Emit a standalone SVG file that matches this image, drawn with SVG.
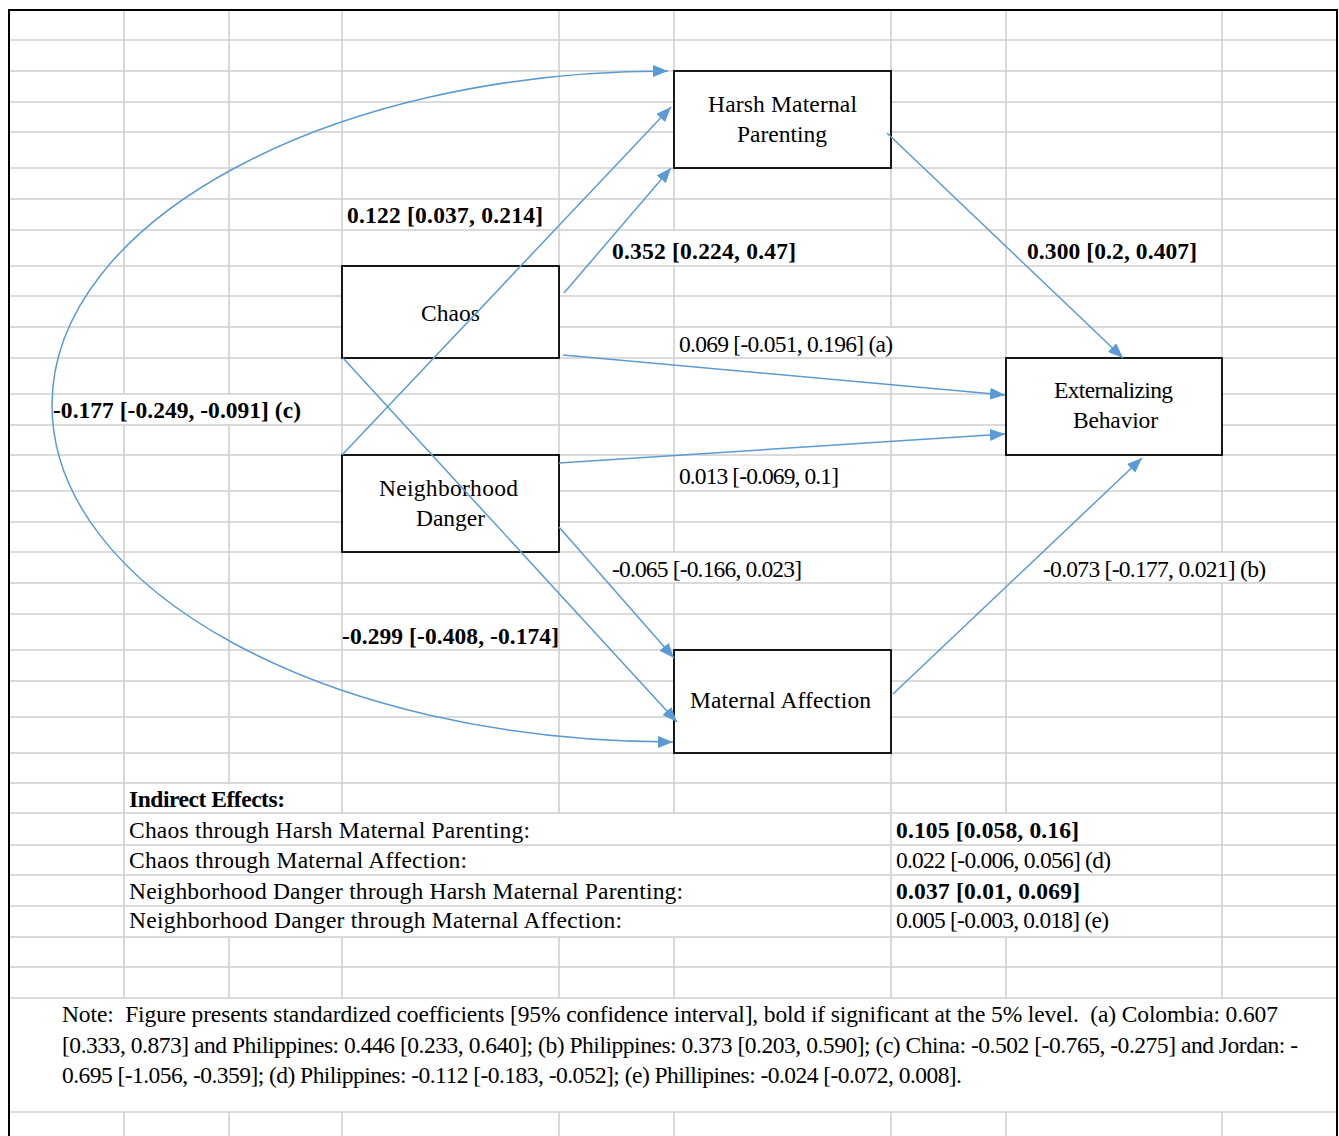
<svg xmlns="http://www.w3.org/2000/svg" width="1339" height="1136" viewBox="0 0 1339 1136">
<style>
.t{font-family:"Liberation Serif","Times New Roman",serif;font-size:23.5px;fill:#000}
.b{font-weight:bold}
.grid{stroke:#D0D0D0;stroke-width:1.6;fill:none}
.box{fill:#fff;stroke:#000;stroke-width:1.8}
.c{stroke:#5B9BD5;stroke-width:1.5;fill:none;marker-end:url(#ah)}
</style>
<defs>
<marker id="ah" markerUnits="userSpaceOnUse" markerWidth="15" markerHeight="12" viewBox="0 0 15 12" refX="15" refY="6" orient="auto-start-reverse">
<path d="M0,0 L15,6 L0,12 z" fill="#5B9BD5"/>
</marker>
</defs>
<rect x="0" y="0" width="1339" height="1136" fill="#fff"/>
<g id="grid" class="grid">
<path d="M9,40H1337M9,71H1337M9,102H1337M9,132H1337M9,168H1337M9,199H1337M9,230H1337M9,266H1337M9,296H1337M9,327H1337M9,358H1337M9,394H1337M9,425H1337M9,455H1337M9,491H1337M9,522H1337M9,552H1337M9,583H1337M9,614H1337M9,650H1337M9,681H1337M9,717H1337M9,753H1337M9,783H1337M9,813H1337M9,845H1337M9,875H1337M9,906H1337M9,937H1337M9,967H1337M9,998H1337M9,1112H1337"/>
<path d="M124,10V394M124,425V998M124,1112V1136
M229,10V394M229,425V783M229,937V998M229,1112V1136
M342,10V813M342,937V998M342,1112V1136
M559,10V813M559,937V998M559,1112V1136
M674,10V230M674,266V552M674,583V813M674,937V998M674,1112V1136
M891,10V327M891,358V998M891,1112V1136
M1006,10V813M1006,937V998M1006,1112V1136
M1222,10V552M1222,583V998M1222,1112V1136"/>
</g>
<path id="border" d="M9,1136V10H1337V1136" stroke="#000" stroke-width="2" fill="none"/>
<g id="node-harsh">
<rect class="box" x="674" y="71" width="217" height="97"/>
<text class="t" x="708" y="112" textLength="149" lengthAdjust="spacing">Harsh Maternal</text>
<text class="t" x="737" y="142" textLength="90" lengthAdjust="spacing">Parenting</text>
</g>
<g id="node-chaos">
<rect class="box" x="342" y="266" width="217" height="92"/>
<text class="t" x="421" y="321" textLength="59" lengthAdjust="spacing">Chaos</text>
</g>
<g id="node-danger">
<rect class="box" x="342" y="455" width="217" height="97"/>
<text class="t" x="379" y="496" textLength="139" lengthAdjust="spacing">Neighborhood</text>
<text class="t" x="416" y="526" textLength="69" lengthAdjust="spacing">Danger</text>
</g>
<g id="node-ext">
<rect class="box" x="1006" y="358" width="216" height="97"/>
<text class="t" x="1054" y="398" textLength="119" lengthAdjust="spacing">Externalizing</text>
<text class="t" x="1073" y="428" textLength="85" lengthAdjust="spacing">Behavior</text>
</g>
<g id="node-affection">
<rect class="box" x="674" y="650" width="217" height="103"/>
<text class="t" x="690" y="708" textLength="181" lengthAdjust="spacing">Maternal Affection</text>
</g>
<g id="connectors">
<path class="c" style="marker-start:url(#ah)" d="M668,71 C329,71 52,221 52,405 C52,591 329,742 673,742"/>
<line class="c" x1="342" y1="455" x2="671" y2="107"/>
<line class="c" x1="564" y1="293" x2="671" y2="168"/>
<line class="c" x1="887" y1="133" x2="1123" y2="358"/>
<line class="c" x1="563" y1="355" x2="1005" y2="395"/>
<line class="c" x1="559" y1="463" x2="1005" y2="434"/>
<line class="c" x1="343" y1="358" x2="677" y2="722"/>
<line class="c" x1="559" y1="527" x2="674" y2="658"/>
<line class="c" x1="893" y1="694" x2="1142" y2="458"/>
</g>
<g id="labels">
<text class="t b" x="347" y="223" textLength="196" lengthAdjust="spacing">0.122 [0.037, 0.214]</text>
<text class="t b" x="612" y="259" textLength="184" lengthAdjust="spacing">0.352 [0.224, 0.47]</text>
<text class="t b" x="1027" y="259" textLength="170" lengthAdjust="spacing">0.300 [0.2, 0.407]</text>
<text class="t" x="679" y="352" textLength="214" lengthAdjust="spacing">0.069 [-0.051, 0.196] (a)</text>
<text class="t" x="679" y="484" textLength="160" lengthAdjust="spacing">0.013 [-0.069, 0.1]</text>
<text class="t" x="612" y="577" textLength="190" lengthAdjust="spacing">-0.065 [-0.166, 0.023]</text>
<text class="t" x="1043" y="577" textLength="223" lengthAdjust="spacing">-0.073 [-0.177, 0.021] (b)</text>
<text class="t b" x="53" y="418" textLength="248" lengthAdjust="spacing">-0.177 [-0.249, -0.091] (c)</text>
<text class="t b" x="342" y="644" textLength="217" lengthAdjust="spacing">-0.299 [-0.408, -0.174]</text>
</g>
<g id="indirect">
<text class="t b" x="129" y="807" textLength="156" lengthAdjust="spacing">Indirect Effects:</text>
<text class="t" x="129" y="838" textLength="401" lengthAdjust="spacing">Chaos through Harsh Maternal Parenting:</text>
<text class="t" x="129" y="868" textLength="338" lengthAdjust="spacing">Chaos through Maternal Affection:</text>
<text class="t" x="129" y="899" textLength="554" lengthAdjust="spacing">Neighborhood Danger through Harsh Maternal Parenting:</text>
<text class="t" x="129" y="928" textLength="493" lengthAdjust="spacing">Neighborhood Danger through Maternal Affection:</text>
<text class="t b" x="896" y="838" textLength="183" lengthAdjust="spacing">0.105 [0.058, 0.16]</text>
<text class="t" x="896" y="868" textLength="215" lengthAdjust="spacing">0.022 [-0.006, 0.056] (d)</text>
<text class="t b" x="896" y="899" textLength="184" lengthAdjust="spacing">0.037 [0.01, 0.069]</text>
<text class="t" x="896" y="928" textLength="213" lengthAdjust="spacing">0.005 [-0.003, 0.018] (e)</text>
</g>
<g id="note">
<text class="t" xml:space="preserve" style="white-space:pre" x="62" y="1022" textLength="1216" lengthAdjust="spacing">Note:  Figure presents standardized coefficients [95% confidence interval], bold if significant at the 5% level.  (a) Colombia: 0.607</text>
<text class="t" x="62" y="1053" textLength="1236" lengthAdjust="spacing">[0.333, 0.873] and Philippines: 0.446 [0.233, 0.640]; (b) Philippines: 0.373 [0.203, 0.590]; (c) China: -0.502 [-0.765, -0.275] and Jordan: -</text>
<text class="t" x="62" y="1083" textLength="900" lengthAdjust="spacing">0.695 [-1.056, -0.359]; (d) Philippines: -0.112 [-0.183, -0.052]; (e) Phillipines: -0.024 [-0.072, 0.008].</text>
</g>
</svg>
